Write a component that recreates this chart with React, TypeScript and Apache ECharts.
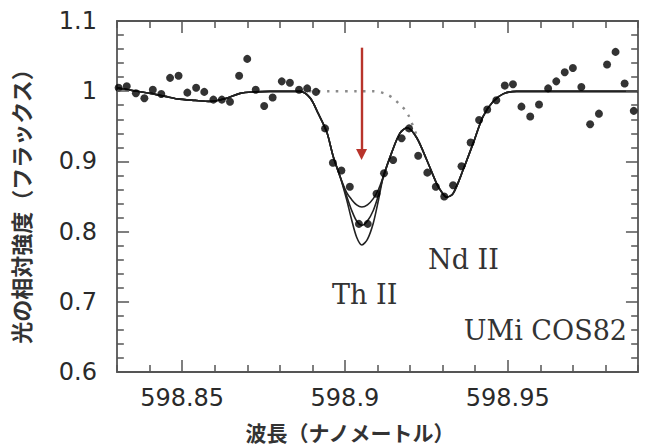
import React, { useEffect, useRef } from "react";
import * as echarts from "echarts";

// Observed spectrum (wavelength in nm, relative flux)
const wavelength = [598.8305, 598.833, 598.8358, 598.8384, 598.841, 598.8436, 598.8463, 598.8489, 598.8516, 598.8543, 598.8568, 598.8596, 598.8622, 598.8647, 598.8675, 598.87, 598.8726, 598.8752, 598.8778, 598.8806, 598.8831, 598.8859, 598.8884, 598.8911, 598.8939, 598.8963, 598.8989, 598.9015, 598.9043, 598.907, 598.9097, 598.912, 598.9148, 598.9174, 598.9197, 598.9225, 598.9253, 598.9279, 598.9305, 598.9332, 598.9358, 598.9386, 598.9412, 598.9437, 598.9465, 598.9491, 598.9516, 598.9542, 598.9569, 598.9596, 598.9624, 598.9649, 598.9675, 598.97, 598.9726, 598.9753, 598.978, 598.9805, 598.9831, 598.9859, 598.9887];
const flux = [1.005, 1.007, 0.997, 0.99, 1.002, 0.996, 1.019, 1.022, 0.998, 1.005, 0.999, 0.988, 0.988, 0.985, 1.022, 1.046, 1.002, 0.979, 0.991, 1.014, 1.012, 1.002, 1.004, 0.999, 0.947, 0.898, 0.887, 0.864, 0.811, 0.811, 0.854, 0.883, 0.902, 0.933, 0.947, 0.908, 0.884, 0.864, 0.85, 0.866, 0.893, 0.927, 0.959, 0.974, 0.987, 1.008, 1.01, 0.978, 0.964, 0.981, 1.004, 1.014, 1.027, 1.033, 1.006, 0.953, 0.968, 1.038, 1.056, 1.011, 0.972];

// Synthetic spectra (three Th abundances)
const modelX = [598.83, 598.8356, 598.8402, 598.8448, 598.8485, 598.854, 598.8586, 598.8635, 598.8678, 598.8724, 598.877, 598.8862, 598.8893, 598.8917, 598.8944, 598.8964, 598.8985, 598.9005, 598.902, 598.9036, 598.9052, 598.9069, 598.9087, 598.9103, 598.9118, 598.9143, 598.9169, 598.9191, 598.922, 598.9251, 598.9281, 598.9296, 598.9312, 598.9332, 598.9363, 598.9394, 598.9424, 598.9455, 598.9486, 598.9527, 598.96, 598.97, 598.98, 598.99];
const modelHead = [1.0047, 1.0004, 0.9969, 0.9926, 0.9891, 0.9869, 0.9855, 0.9898, 0.9969, 0.999, 0.9997, 0.9997, 0.9905, 0.9691, 0.9421, 0.907, 0.8785];
const troughUpper = [0.856, 0.846, 0.838, 0.835, 0.838, 0.847, 0.86];
const troughMiddle = [0.851, 0.831, 0.815, 0.809, 0.815, 0.83, 0.852];
const troughLower = [0.846, 0.818, 0.792, 0.781, 0.789, 0.812, 0.845];
const modelTail = [0.8785, 0.9118, 0.9403, 0.948, 0.934, 0.9023, 0.8691, 0.857, 0.849, 0.854, 0.888, 0.926, 0.9639, 0.9852, 0.9962, 0.9997, 0.9997, 0.9997, 0.9997, 0.9997];

// Spectrum without Th (dotted)
const noThX = [598.8862, 598.895, 598.904, 598.9087, 598.9123, 598.9148, 598.9169, 598.9184, 598.9197, 598.9222];
const noThY = [1.0, 1.0, 1.0, 1.0, 0.9966, 0.99, 0.9807, 0.9737, 0.9639, 0.935];

// Arrow marking the Th II line
const arrowX = 598.9051;
const arrowFrom = 1.062;
const arrowTo = 0.91;

// Tick values
const xTickLabels = [598.85, 598.9, 598.95];
const xMinorTicks = [598.83, 598.84, 598.86, 598.87, 598.88, 598.89, 598.91, 598.92, 598.93, 598.94, 598.96, 598.97, 598.98, 598.99];
const yMajorTicks = [0.7, 0.8, 0.9, 1.0];
const yMinorTicks = [0.62, 0.64, 0.66, 0.68, 0.72, 0.74, 0.76, 0.78, 0.82, 0.84, 0.86, 0.88, 0.92, 0.94, 0.96, 0.98, 1.02, 1.04, 1.06, 1.08];

const xMin = 598.83;
const xMax = 598.99;
const yMin = 0.6;
const yMax = 1.1;

const axisColor = "#555";
// Tick lengths in data units (about 12 px major, 7 px minor)
const X_TICK_MAJOR = 0.0171;
const X_TICK_MINOR = 0.01;
const Y_TICK_MAJOR = 0.0037;
const Y_TICK_MINOR = 0.0021;

export default function App() {
  const ref = useRef<HTMLDivElement>(null);

  useEffect(() => {
    if (!ref.current) return;
    const chart = echarts.init(ref.current, null, { renderer: "svg" });

    const pair = (xs: number[], ys: number[]) => xs.map((x, i) => [x, ys[i]]);
    const upper = [...modelHead, ...troughUpper, ...modelTail];
    const middle = [...modelHead, ...troughMiddle, ...modelTail];
    const lower = [...modelHead, ...troughLower, ...modelTail];

    const lineStyle = { color: "#222", width: 1.6 };

    // Tick marks on all four sides, as mark lines through the chart's own scales
    const tickSegs: any[] = [];
    const xTickList = [
      ...xTickLabels.map((v) => [v, X_TICK_MAJOR]),
      ...xMinorTicks.map((v) => [v, X_TICK_MINOR]),
    ];
    xTickList.forEach(([v, len]) => {
      tickSegs.push([{ coord: [v, yMin] }, { coord: [v, yMin + len] }]);
      tickSegs.push([{ coord: [v, yMax] }, { coord: [v, yMax - len] }]);
    });
    const yTickList = [
      ...yMajorTicks.map((v) => [v, Y_TICK_MAJOR]),
      ...yMinorTicks.map((v) => [v, Y_TICK_MINOR]),
    ];
    yTickList.forEach(([v, len]) => {
      tickSegs.push([{ coord: [xMin, v] }, { coord: [xMin + len, v] }]);
      tickSegs.push([{ coord: [xMax, v] }, { coord: [xMax - len, v] }]);
    });

    const xAxisBase = (position: string, labels: boolean) => ({
      type: "value",
      position,
      min: xMin,
      max: xMax,
      interval: 0.01,
      axisLine: { show: true, onZero: false, lineStyle: { color: axisColor, width: 1.8 } },
      axisTick: { show: false },
      axisLabel: labels
        ? {
            show: true,
            customValues: xTickLabels,
            margin: 14,
            fontSize: 24,
            fontFamily: "DejaVu Sans",
            color: "#2a2a2a",
            formatter: (v: number) => String(parseFloat(Number(v).toFixed(3))),
          }
        : { show: false },
      splitLine: { show: false },
    });
    const yAxisBase = (position: string, labels: boolean) => ({
      type: "value",
      position,
      min: yMin,
      max: yMax,
      interval: 0.1,
      axisLine: { show: true, onZero: false, lineStyle: { color: axisColor, width: 1.8 } },
      axisTick: { show: false },
      axisLabel: labels
        ? {
            show: true,
            margin: 20,
            fontSize: 24,
            fontFamily: "DejaVu Sans",
            color: "#2a2a2a",
            formatter: (v: number) => String(parseFloat(Number(v).toFixed(2))),
          }
        : { show: false },
      splitLine: { show: false },
    });

    const serif = "DejaVu Serif";
    const cjk = "Noto Sans CJK JP";

    chart.setOption({
      animation: false,
      backgroundColor: "#ffffff",
      grid: { left: 117, right: 7, top: 21, bottom: 74, containLabel: false },
      xAxis: [xAxisBase("bottom", true), xAxisBase("top", false)],
      yAxis: [yAxisBase("left", true), yAxisBase("right", false)],
      series: [
        {
          type: "line",
          name: "noTh",
          data: pair(noThX, noThY),
          smooth: 0.3,
          showSymbol: false,
          lineStyle: { color: "#8a8a8a", width: 2.4, type: [2.5, 6.5] },
          z: 1,
        },
        {
          type: "line",
          name: "upper",
          data: pair(modelX, upper),
          smooth: 0.3,
          showSymbol: false,
          lineStyle,
          z: 2,
          markLine: {
            silent: true,
            symbol: ["none", "none"],
            label: { show: false },
            lineStyle: { color: axisColor, width: 1.5, type: "solid" },
            emphasis: { disabled: true },
            data: tickSegs,
          },
        },
        { type: "line", name: "middle", data: pair(modelX, middle), smooth: 0.3, showSymbol: false, lineStyle, z: 2 },
        { type: "line", name: "lower", data: pair(modelX, lower), smooth: 0.3, showSymbol: false, lineStyle, z: 2 },
        {
          type: "scatter",
          name: "observed",
          data: pair(wavelength, flux),
          symbol: "circle",
          symbolSize: 8,
          itemStyle: { color: "#000" },
          z: 3,
          markLine: {
            silent: true,
            symbol: ["none", "triangle"],
            symbolSize: 11,
            label: { show: false },
            lineStyle: { color: "#b8342b", width: 2.4, type: "solid" },
            data: [[{ coord: [arrowX, arrowFrom] }, { coord: [arrowX, arrowTo] }]],
          },
        },
      ],
      graphic: [
        { type: "text", x: 332, y: 294, style: { text: "Th II", fontSize: 27, fontFamily: serif, fill: "#333", align: "left", verticalAlign: "middle" } },
        { type: "text", x: 428, y: 259, style: { text: "Nd II", fontSize: 27, fontFamily: serif, fill: "#333", align: "left", verticalAlign: "middle" } },
        { type: "text", x: 627, y: 330, style: { text: "UMi COS82", fontSize: 27, fontFamily: serif, fill: "#333", align: "right", verticalAlign: "middle" } },
        { type: "text", x: 350, y: 432, style: { text: "波長（ナノメートル）", fontSize: 21, lineHeight: 22, fontWeight: "bold", fontFamily: cjk, fill: "#333", align: "center", verticalAlign: "middle" } },
        { type: "text", x: 20, y: 201, rotation: Math.PI / 2, style: { text: "光の相対強度（フラックス）", fontSize: 22, fontWeight: "bold", fontFamily: cjk, fill: "#333", align: "center", verticalAlign: "middle" } },
      ],
    });

    return () => chart.dispose();
  }, []);

  return <div ref={ref} style={{ position: "fixed", left: 0, top: 0, width: 645, height: 446, background: "#fff" }} />;
}
